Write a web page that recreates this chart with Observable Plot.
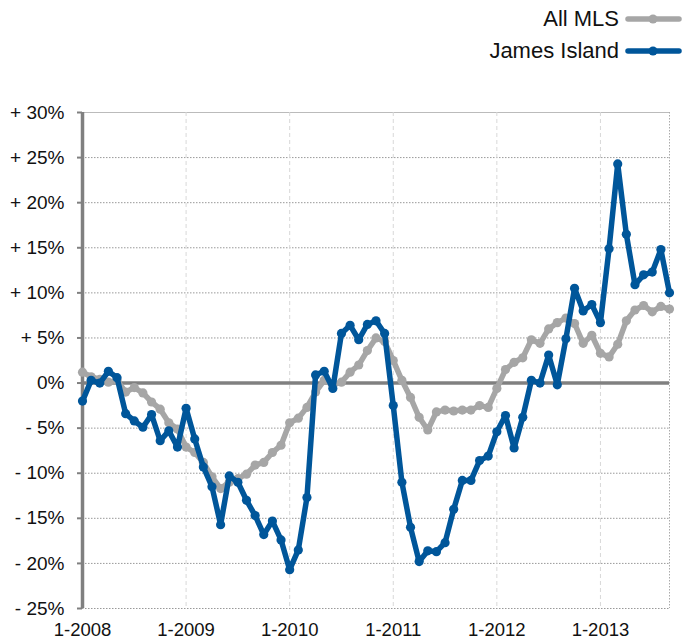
<!DOCTYPE html>
<html><head><meta charset="utf-8">
<script src="https://cdn.jsdelivr.net/npm/d3@7"></script>
<script src="https://cdn.jsdelivr.net/npm/@observablehq/plot@0.6"></script>
<style>
html,body{margin:0;padding:0;background:#fff;overflow:hidden;width:692px;height:636px;}
body{font-family:"Liberation Sans",Arial,Helvetica,sans-serif;}
#legend{position:relative;height:75px;width:692px;}
.row{position:absolute;right:10px;display:flex;align-items:center;gap:6px;font-size:22px;line-height:24px;color:#111;}
</style></head><body>
<div id="legend"></div>
<div id="chart"></div>
<script>
const seriesNames = ["All MLS", "James Island"];
const seriesColors = ["#a6a6a6", "#00569a"];

// monthly % change, Jan 2008 .. Sep 2013
const allMls = [1.2, 0.7, 0.4, 0.1, 0.3, -1.0, -0.5, -1.1, -2.1, -2.9, -4.4, -5.1,
  -7.1, -7.7, -8.8, -10.4, -11.7, -11.0, -10.6, -10.1, -9.1, -8.8, -7.7, -6.9,
  -4.4, -3.9, -2.7, -1.0, 0.3, -0.2, 0.1, 1.2, 2.0, 3.6, 5.0, 4.6,
  2.5, 0.3, -1.6, -3.8, -5.2, -3.2, -3.0, -3.1, -3.0, -3.0, -2.5, -2.7,
  -0.6, 1.5, 2.3, 2.8, 4.8, 4.4, 6.0, 6.7, 7.2, 6.6, 4.4, 5.3,
  3.3, 2.9, 4.3, 6.9, 8.1, 8.6, 7.9, 8.5, 8.2];
const jamesIsland = [-2.0, 0.3, 0.0, 1.3, 0.6, -3.4, -4.2, -4.9, -3.5, -6.4, -5.3, -7.1,
  -2.8, -6.2, -9.3, -11.5, -15.7, -10.3, -11.0, -13.0, -14.7, -16.8, -15.3, -17.4,
  -20.7, -18.5, -12.7, 0.9, 1.3, -0.6, 5.5, 6.4, 4.8, 6.5, 6.9, 5.5,
  -2.5, -11.0, -16.0, -19.8, -18.6, -18.7, -17.7, -14.0, -10.8, -10.8, -8.6, -8.1,
  -5.4, -3.6, -7.2, -3.8, 0.3, 0.0, 3.1, -0.2, 4.9, 10.5, 8.0, 8.7,
  6.7, 14.9, 24.3, 16.5, 10.9, 12.0, 12.3, 14.8, 10.0];

const xTickMonths = [0, 12, 24, 36, 48, 60];
const xTickLabels = ["1-2008", "1-2009", "1-2010", "1-2011", "1-2012", "1-2013"];
const yTicks = [30, 25, 20, 15, 10, 5, 0, -5, -10, -15, -20, -25];
const yTickLabels = ["+ 30%", "+ 25%", "+ 20%", "+ 15%", "+ 10%", "+ 5%", "0%", "- 5%", "- 10%", "- 15%", "- 20%", "- 25%"];

const seriesValues = [allMls, jamesIsland];
const tables = seriesNames.map((name, s) => seriesValues[s].map((v, i) => ({series: name, month: i, value: v})));

// legend
const legend = document.getElementById("legend");
seriesNames.forEach((name, s) => {
  const row = document.createElement("div");
  row.className = "row";
  row.style.top = (7 + s * 32) + "px";
  const label = document.createElement("span");
  label.textContent = name;
  row.appendChild(label);
  const svgNS = "http://www.w3.org/2000/svg";
  const sw = document.createElementNS(svgNS, "svg");
  sw.setAttribute("width", "57"); sw.setAttribute("height", "12");
  const ln = document.createElementNS(svgNS, "line");
  ln.setAttribute("x1", "3"); ln.setAttribute("x2", "54"); ln.setAttribute("y1", "6"); ln.setAttribute("y2", "6");
  ln.setAttribute("stroke", seriesColors[s]); ln.setAttribute("stroke-width", "5.5"); ln.setAttribute("stroke-linecap", "round");
  const c = document.createElementNS(svgNS, "circle");
  c.setAttribute("cx", "28"); c.setAttribute("cy", "6"); c.setAttribute("r", "4.5"); c.setAttribute("fill", seriesColors[s]);
  sw.appendChild(ln); sw.appendChild(c);
  row.appendChild(sw);
  legend.appendChild(row);
});

const seriesMarks = tables.flatMap(t => [
  Plot.line(t, {x: "month", y: "value", stroke: "series", strokeWidth: 5.5, strokeLinejoin: "round", strokeLinecap: "round"}),
  Plot.dot(t, {x: "month", y: "value", fill: "series", r: 4.6})
]);

const plot = Plot.plot({
  width: 692, height: 580,
  marginLeft: 82, marginRight: 23, marginTop: 37, marginBottom: 47,
  style: {fontFamily: "Liberation Sans, Arial, Helvetica, sans-serif", background: "white", overflow: "visible", color: "#111"},
  x: {type: "linear", domain: [0, 68]},
  y: {domain: [-25, 30]},
  color: {domain: seriesNames, range: seriesColors},
  marks: [
    Plot.ruleY(yTicks.filter(v => v !== 0 && v !== 30), {stroke: "#999", strokeDasharray: "1.5,1.5", strokeWidth: 1}),
    Plot.ruleY([30], {stroke: "#bbb", strokeWidth: 1}),
    Plot.ruleX(xTickMonths.slice(1), {stroke: "#d8d8d8", strokeDasharray: "4,3", strokeWidth: 1}),
    Plot.ruleX([68], {stroke: "#aaa", strokeDasharray: "1.5,1.5", strokeWidth: 1}),
    Plot.axisY({ticks: yTicks, tickFormat: d => yTickLabels[yTicks.indexOf(d)], tickSize: 5, tickPadding: 13, fontSize: 19, stroke: "#808080", strokeWidth: 2, fill: "#111", label: null}),
    Plot.axisX({ticks: xTickMonths, tickFormat: d => xTickLabels[xTickMonths.indexOf(d)], tickSize: 0, tickPadding: 14, fontSize: 18.5, fill: "#111", label: null}),
    Plot.ruleY([0], {stroke: "#808080", strokeWidth: 3.5}),
    Plot.ruleX([0], {stroke: "#808080", strokeWidth: 3.5}),
    ...seriesMarks
  ]
});
document.getElementById("chart").appendChild(plot);
</script>
</body></html>
